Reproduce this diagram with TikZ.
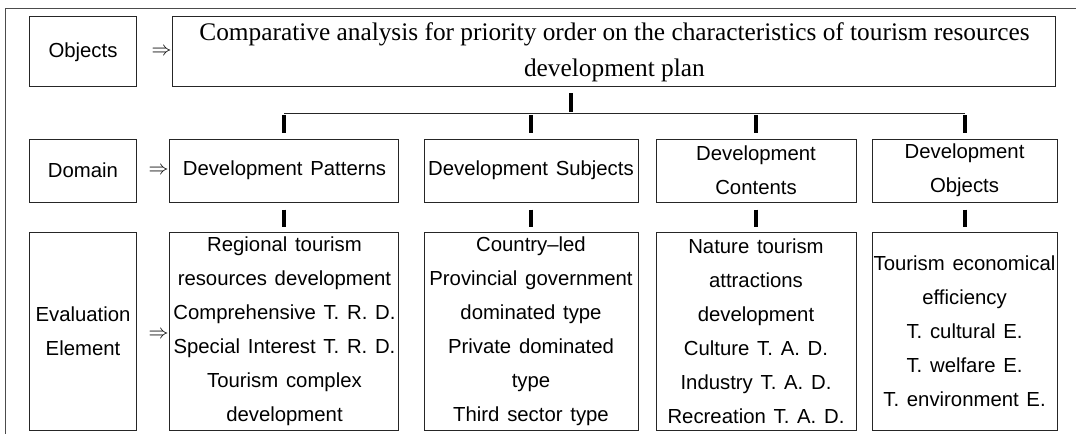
\documentclass[tikz,border=0pt]{standalone}
\usepackage{fontspec}
\setmainfont{Liberation Serif}
\setsansfont{Liberation Sans}
\usepackage{tikz}
\usetikzlibrary{arrows}
\newcommand{\boxfont}{\sffamily\fontsize{15.25}{25.5}\selectfont\spaceskip=0.38em plus 0.1em}
\newcommand{\planfont}{\rmfamily\fontsize{19}{27}\selectfont}
\tikzstyle{sideBlock} = [rectangle, draw=black!85, line width=0.75pt, font=\boxfont,
    align=center, inner sep=0pt, minimum width=80.25pt]
\tikzstyle{planBlock} = [rectangle, draw=black!85, line width=0.75pt, font=\planfont,
    align=center, inner sep=0pt, minimum width=662.25pt, minimum height=52.5pt]
\tikzstyle{headBlock} = [rectangle, draw=black!85, line width=0.75pt, font=\boxfont,
    align=center, inner sep=0pt, minimum height=47.25pt]
\tikzstyle{itemBlock} = [rectangle, draw=black!85, line width=0.75pt, font=\boxfont,
    align=center, inner sep=0pt, minimum height=148.5pt]
\tikzstyle{implies} = [inner xsep=0.5pt, inner ysep=0pt]
\tikzstyle{bar} = [draw, line width=3pt]
\tikzstyle{line} = [draw, black!85, line width=0.75pt]
\tikzstyle{frame} = [draw, black!70, line width=0.75pt]

\begin{document}
\begin{tikzpicture}[node distance = 88.9pt, auto]
    \useasboundingbox (0,0) rectangle (807pt,-325.5pt);
    \path [frame] (3.75pt,-325.5pt) |- (807pt,-6.75pt);
    % Place nodes
    \node [sideBlock, minimum height=52.5pt] (objects) at (62.25pt,-39pt) {Objects};
    \node [planBlock, right of=objects, node distance=398.6pt] (plan) {Comparative analysis for priority order on the characteristics of tourism resources\\development plan};
    \node [sideBlock, below of=objects, minimum height=47.25pt] (domain) {Domain};
    \node [headBlock, right of=domain, node distance=151.1pt, minimum width=171.75pt] (patterns) {Development Patterns};
    \node [headBlock, right of=patterns, node distance=184.9pt, minimum width=160.5pt] (subjects) {Development Subjects};
    \node [headBlock, right of=subjects, node distance=168.75pt, minimum width=150pt] (contents) {Development\\Contents};
    \node [headBlock, right of=contents, node distance=156.4pt, minimum width=138.75pt] (goals) {Development\\Objects};
    \node [sideBlock, below of=domain, node distance=120.4pt, minimum height=148.5pt] (evaluation) {Evaluation\\Element};
    \node [itemBlock, below of=patterns, node distance=120.4pt, minimum width=171.75pt] (patternItems) {Regional tourism\\resources development\\Comprehensive T. R. D.\\Special Interest T. R. D.\\Tourism complex\\development};
    \node [itemBlock, below of=subjects, node distance=120.4pt, minimum width=160.5pt] (subjectItems) {Country–led\\Provincial government\\dominated type\\Private dominated\\type\\Third sector type};
    \node [itemBlock, below of=contents, node distance=120.4pt, minimum width=150pt] (contentItems) {Nature tourism\\attractions\\development\\Culture T. A. D.\\Industry T. A. D.\\Recreation T. A. D.};
    \node [itemBlock, below of=goals, node distance=120.4pt, minimum width=138.75pt] (goalItems) {Tourism economical\\efficiency\\T. cultural E.\\T. welfare E.\\T. environment E.};
    \node [implies, anchor=east] (toPlan) at (plan.west) {\scalebox{1.5}{$\Rightarrow$}};
    \node [implies, anchor=east] (toPatterns) at (patterns.west) {\scalebox{1.5}{$\Rightarrow$}};
    \node [implies, anchor=east] (toItems) at ([yshift=-3pt]patternItems.west) {\scalebox{1.5}{$\Rightarrow$}};
    \coordinate [xshift=-32.6pt, yshift=-19.5pt] (hub) at (plan.south);

    % Draw edges
    \path [bar, shorten <=4.5pt, shorten >=0.75pt] (plan.south -| hub) -- (hub);
    \path [line] (patterns.north |- hub) -- (goals.north |- hub);
    \path [bar, shorten <=1.5pt, shorten >=4.5pt] (patterns.north |- hub) -- (patterns);
    \path [bar, shorten <=1.5pt, shorten >=4.5pt] (subjects.north |- hub) -- (subjects);
    \path [bar, shorten <=1.5pt, shorten >=4.5pt] (contents.north |- hub) -- (contents);
    \path [bar, shorten <=1.5pt, shorten >=4.5pt] (goals.north |- hub) -- (goals);
    \path [bar, shorten <=5.25pt, shorten >=3.75pt] (patterns) -- (patternItems);
    \path [bar, shorten <=5.25pt, shorten >=3.75pt] (subjects) -- (subjectItems);
    \path [bar, shorten <=5.25pt, shorten >=3.75pt] (contents) -- (contentItems);
    \path [bar, shorten <=5.25pt, shorten >=3.75pt] (goals) -- (goalItems);
\end{tikzpicture}
\end{document}
